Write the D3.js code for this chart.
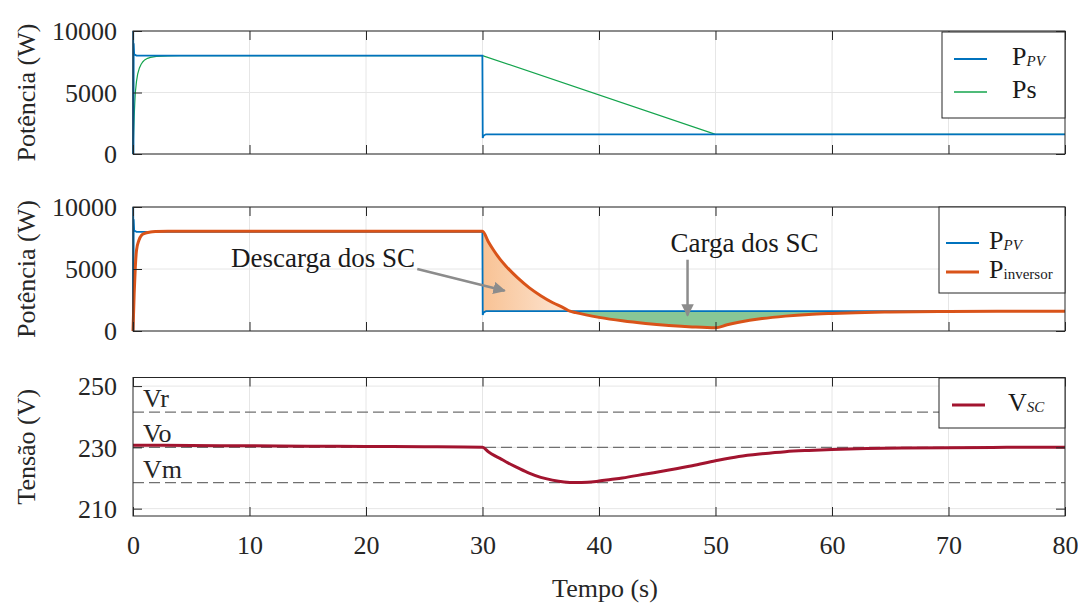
<!DOCTYPE html>
<html lang="pt">
<head>
<meta charset="UTF-8">
<title>Potência e tensão dos SC</title>
<script src="https://d3js.org/d3.v7.min.js"></script>
<style>
  body { margin: 0; background: #fff; }
  .tick text { fill: #262626; }
  .tick line { stroke: #262626; }
</style>
</head>
<body>
<div id="chart"></div>
<script>
// ---- data ----
const xTicks = [0, 10, 20, 30, 40, 50, 60, 70, 80];
const powerTicks = [0, 5000, 10000];
const voltTicks = [210, 230, 250];

// P_PV (blue)
const tPV = [0, 0.02, 0.04, 0.06, 0.1, 0.3, 5, 10, 20, 29.99, 30.02, 30.1, 30.3, 40, 50, 60, 70, 80];
const pPV = [0, 10000, 0, 9000, 8100, 8000, 8000, 8000, 8000, 8000, 1300, 1500, 1600, 1600, 1600, 1600, 1600, 1600];

// Ps (green)
const tPs = [0, 0.05, 0.1, 0.15, 0.2, 0.3, 0.4, 0.55, 0.7, 0.85, 1.0, 1.25, 1.5, 2, 2.5, 3, 4, 5, 30, 50, 80];
const pPs = [0, 1700, 3000, 4100, 5000, 5900, 6500, 7000, 7300, 7500, 7650, 7780, 7850, 7930, 7960, 7980, 7995, 8000, 8000, 1600, 1600];

// P_inversor (orange)
const tInv = [0, 0.1, 0.2, 0.3, 0.5, 0.75, 1, 1.5, 2, 3, 5, 30, 30.5, 31, 31.5, 32, 33, 34, 35, 36, 37, 37.5, 38, 40, 42, 44, 46, 48, 50, 51, 52, 54, 56, 58, 60, 62, 65, 70, 80];
const pInv = [0, 3000, 5200, 6500, 7300, 7750, 7880, 7980, 8020, 8050, 8050, 8050, 7200, 6450, 5800, 5250, 4300, 3500, 2850, 2300, 1850, 1600, 1480, 1100, 820, 610, 450, 330, 260, 500, 700, 1000, 1200, 1340, 1420, 1480, 1530, 1575, 1595];

// V_SC (red)
const tVsc = [0, 5, 10, 15, 20, 25, 30, 30.5, 31, 31.5, 32, 33, 34, 35, 36, 37, 38, 39, 40, 41, 42, 44, 46, 48, 50, 52, 54, 56, 58, 60, 63, 66, 70, 75, 80];
const vVsc = [230.7, 230.6, 230.5, 230.4, 230.3, 230.2, 230.0, 228.6, 227.4, 226.4, 225.3, 223.4, 221.6, 220.2, 219.3, 218.7, 218.5, 218.6, 219.0, 219.5, 220.0, 221.3, 222.6, 224.0, 225.6, 227.0, 227.9, 228.6, 229.0, 229.3, 229.6, 229.8, 229.9, 230.0, 230.0];

// reference voltages
const refLabels = ["Vr", "Vo", "Vm"];
const refValues = [241.5, 230, 218.5];

// annotations (t, P)
const annDescarga = { text: "Descarga dos SC", at: [24.2, 5160], from: [24.4, 5000], to: [31.9, 3250] };
const annCarga = { text: "Carga dos SC", at: [52.5, 6370], from: [47.6, 5750], to: [47.6, 1250] };

// ---- layout ----
const W = 1078, H = 603;
const left = 133, right = 1065;
const FONT = "Liberation Serif";
const colors = { pv: "#0072bd", ps: "#14a44d", inv: "#d95319", vsc: "#a2142f" };

const svg = d3.select("#chart").append("svg").attr("width", W).attr("height", H);
const defs = svg.append("defs");

const x = d3.scaleLinear().domain([0, 80]).range([left, right]);

const panels = [
  { top: 31, bottom: 154, domain: [0, 10000], ticks: powerTicks, label: "Potência (W)" },
  { top: 207, bottom: 331, domain: [0, 10000], ticks: powerTicks, label: "Potência (W)" },
  { top: 377.5, bottom: 516, domain: [207.6, 252.8], ticks: voltTicks, label: "Tensão (V)" }
];

panels.forEach((p, i) => {
  p.y = d3.scaleLinear().domain(p.domain).range([p.bottom, p.top]);
  p.g = svg.append("g");
  const h = p.bottom - p.top;

  // grid
  p.g.selectAll(".vg").data(xTicks.slice(1, -1)).enter().append("line")
    .attr("x1", d => x(d)).attr("x2", d => x(d))
    .attr("y1", p.top).attr("y2", p.bottom)
    .attr("stroke", "#e6e6e6").attr("stroke-width", 1);
  p.g.selectAll(".hg").data(p.ticks).enter().append("line")
    .attr("x1", left).attr("x2", right)
    .attr("y1", d => p.y(d)).attr("y2", d => p.y(d))
    .attr("stroke", "#e6e6e6").attr("stroke-width", 1);

  defs.append("clipPath").attr("id", "clip" + i).append("rect")
    .attr("x", left - 2).attr("y", p.top - 2).attr("width", right - left + 4).attr("height", h + 4);
  p.plot = svg.append("g").attr("clip-path", `url(#clip${i})`);
});

const seriesLine = (p, tt, vv) => d3.line().x(k => x(tt[k])).y(k => p.y(vv[k]));

// ---- panel 1 ----
const p1 = panels[0];
p1.plot.append("path").datum(d3.range(tPs.length))
  .attr("d", seriesLine(p1, tPs, pPs))
  .attr("fill", "none").attr("stroke", colors.ps).attr("stroke-width", 1.2);
p1.plot.append("path").datum(d3.range(tPV.length))
  .attr("d", seriesLine(p1, tPV, pPV))
  .attr("fill", "none").attr("stroke", colors.pv).attr("stroke-width", 1.8);

// ---- panel 2 ----
const p2 = panels[1];
const pvLevel = pPV[pPV.length - 1];
const crossIdx = tInv.indexOf(37.5);
const startIdx = tInv.indexOf(30);

const grad = defs.append("linearGradient").attr("id", "descGrad")
  .attr("gradientUnits", "userSpaceOnUse")
  .attr("x1", x(30)).attr("x2", x(37.5)).attr("y1", 0).attr("y2", 0);
grad.append("stop").attr("offset", "0%").attr("stop-color", "#f8c294");
grad.append("stop").attr("offset", "100%").attr("stop-color", "#fde6d4");

const dischargeIdx = d3.range(startIdx, crossIdx + 1);
p2.plot.append("path").datum(dischargeIdx)
  .attr("d", d3.area().x(k => x(tInv[k])).y0(p2.y(pvLevel)).y1(k => p2.y(pInv[k])).curve(d3.curveMonotoneX))
  .attr("fill", "url(#descGrad)");

const chargeIdx = d3.range(crossIdx, tInv.length).filter(k => pInv[k] <= pvLevel);
p2.plot.append("path").datum(chargeIdx)
  .attr("d", d3.area().x(k => x(tInv[k])).y0(p2.y(pvLevel)).y1(k => p2.y(pInv[k])).curve(d3.curveMonotoneX))
  .attr("fill", "#88c796");

p2.plot.append("path").datum(d3.range(tPV.length))
  .attr("d", seriesLine(p2, tPV, pPV))
  .attr("fill", "none").attr("stroke", colors.pv).attr("stroke-width", 1.8);
p2.plot.append("path").datum(d3.range(tInv.length))
  .attr("d", seriesLine(p2, tInv, pInv).curve(d3.curveMonotoneX))
  .attr("fill", "none").attr("stroke", colors.inv).attr("stroke-width", 3);

// annotations
defs.append("marker").attr("id", "arrow").attr("viewBox", "0 0 10 10")
  .attr("refX", 9).attr("refY", 5).attr("markerWidth", 5).attr("markerHeight", 5)
  .attr("orient", "auto").attr("markerUnits", "strokeWidth")
  .append("path").attr("d", "M0,0 L10,5 L0,10 Z").attr("fill", "#8c8c8c");

[annDescarga, annCarga].forEach((a, i) => {
  svg.append("line")
    .attr("x1", x(a.from[0])).attr("y1", p2.y(a.from[1]))
    .attr("x2", x(a.to[0])).attr("y2", p2.y(a.to[1]))
    .attr("stroke", "#8c8c8c").attr("stroke-width", 2.5).attr("marker-end", "url(#arrow)");
  svg.append("text")
    .attr("x", x(a.at[0])).attr("y", p2.y(a.at[1]))
    .attr("text-anchor", i === 0 ? "end" : "middle")
    .attr("font-family", FONT).attr("font-size", 27).attr("fill", "#1a1a1a")
    .text(a.text);
});

// ---- panel 3 ----
const p3 = panels[2];
refValues.forEach((v, k) => {
  p3.plot.append("line")
    .attr("x1", left).attr("x2", right).attr("y1", p3.y(v)).attr("y2", p3.y(v))
    .attr("stroke", "#707070").attr("stroke-width", 1.3).attr("stroke-dasharray", "11,5");
  svg.append("text")
    .attr("x", left + 10).attr("y", p3.y(v) - 5)
    .attr("font-family", FONT).attr("font-size", 26).attr("fill", "#262626")
    .text(refLabels[k]);
});
p3.plot.append("path").datum(d3.range(tVsc.length))
  .attr("d", seriesLine(p3, tVsc, vVsc).curve(d3.curveMonotoneX))
  .attr("fill", "none").attr("stroke", colors.vsc).attr("stroke-width", 3);

// ---- axes, boxes and labels ----
panels.forEach((p, i) => {
  const last = i === panels.length - 1;
  const g = svg.append("g");
  const bottom = g.append("g").attr("transform", `translate(0,${p.bottom})`)
    .call(d3.axisBottom(x).tickValues(xTicks).tickSizeInner(-9).tickSizeOuter(0).tickPadding(20)
      .tickFormat(last ? d3.format("d") : () => ""));
  const top = g.append("g").attr("transform", `translate(0,${p.top})`)
    .call(d3.axisTop(x).tickValues(xTicks).tickSizeInner(-9).tickSizeOuter(0).tickFormat(() => ""));
  const leftAx = g.append("g").attr("transform", `translate(${left},0)`)
    .call(d3.axisLeft(p.y).tickValues(p.ticks).tickSizeInner(-9).tickSizeOuter(0).tickPadding(16).tickFormat(d3.format("d")));
  const rightAx = g.append("g").attr("transform", `translate(${right},0)`)
    .call(d3.axisRight(p.y).tickValues(p.ticks).tickSizeInner(-9).tickSizeOuter(0).tickFormat(() => ""));
  [bottom, top, leftAx, rightAx].forEach(a => {
    a.select(".domain").remove();
    a.attr("font-family", FONT).attr("font-size", 26);
  });
  leftAx.selectAll("text").attr("dy", "0.34em");

  g.append("rect")
    .attr("x", left).attr("y", p.top).attr("width", right - left).attr("height", p.bottom - p.top)
    .attr("fill", "none").attr("stroke", "#262626").attr("stroke-width", 1);

  svg.append("text")
    .attr("transform", `translate(35,${(p.top + p.bottom) / 2}) rotate(-90)`)
    .attr("text-anchor", "middle").attr("font-family", FONT).attr("font-size", 26).attr("fill", "#262626")
    .text(p.label);
});

svg.append("text")
  .attr("x", (left + right) / 2 + 6).attr("y", 597)
  .attr("text-anchor", "middle").attr("font-family", FONT).attr("font-size", 26).attr("fill", "#262626")
  .text("Tempo (s)");

// ---- legends ----
function legend(box, rows) {
  const g = svg.append("g");
  g.append("rect").attr("x", box.x).attr("y", box.y).attr("width", box.w).attr("height", box.h)
    .attr("fill", "#fff").attr("stroke", "#262626").attr("stroke-width", 1);
  rows.forEach(r => {
    g.append("line").attr("x1", box.lx1).attr("x2", box.lx2).attr("y1", r.y).attr("y2", r.y)
      .attr("stroke", r.color).attr("stroke-width", r.width);
    const t = g.append("text").attr("x", box.tx).attr("y", r.y + 6)
      .attr("font-family", FONT).attr("font-size", 26).attr("fill", "#1a1a1a");
    t.append("tspan").text(r.main);
    if (r.sub) {
      t.append("tspan").attr("font-size", 15).attr("dy", 1)
        .attr("font-style", r.italic ? "italic" : "normal").text(r.sub);
    }
  });
}

legend({ x: 942, y: 32, w: 123, h: 86, lx1: 954, lx2: 987, tx: 1012 }, [
  { y: 59, color: colors.pv, width: 1.8, main: "P", sub: "PV", italic: true },
  { y: 92, color: colors.ps, width: 1.5, main: "Ps" }
]);
legend({ x: 939, y: 207, w: 126, h: 86, lx1: 946, lx2: 979, tx: 989 }, [
  { y: 243, color: colors.pv, width: 1.8, main: "P", sub: "PV", italic: true },
  { y: 272, color: colors.inv, width: 3, main: "P", sub: "inversor", italic: false }
]);
legend({ x: 939, y: 378, w: 126, h: 50, lx1: 952, lx2: 985, tx: 1008 }, [
  { y: 405, color: colors.vsc, width: 3, main: "V", sub: "SC", italic: true }
]);
</script>
</body>
</html>
